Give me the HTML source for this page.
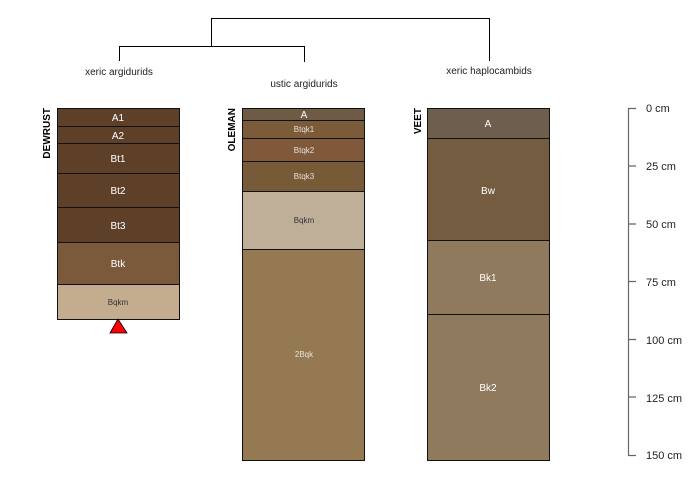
<!DOCTYPE html>
<html><head><style>html,body{margin:0;padding:0;background:#fff}svg{display:block}</style></head>
<body>
<svg width="700" height="500" viewBox="0 0 700 500" xmlns="http://www.w3.org/2000/svg" font-family="Liberation Sans, sans-serif">
<g stroke="#000" stroke-width="1" fill="none">
<path d="M211.5 47V18.5H489.5V61"/>
<path d="M119.5 61V46.5H304.5V62"/>
</g>
<g font-size="10" fill="#222" text-anchor="middle">
<text x="119" y="75">xeric argidurids</text>
<text x="304" y="87">ustic argidurids</text>
<text x="489" y="74">xeric haplocambids</text>
</g>
<!-- DEWRUST -->
<g stroke="#111" stroke-width="1">
<rect x="57.5" y="108.5" width="122" height="18" fill="#5e4029"/>
<rect x="57.5" y="126.5" width="122" height="17" fill="#5e4029"/>
<rect x="57.5" y="143.5" width="122" height="30" fill="#5e4029"/>
<rect x="57.5" y="173.5" width="122" height="34" fill="#5e4029"/>
<rect x="57.5" y="207.5" width="122" height="35" fill="#5e4029"/>
<rect x="57.5" y="242.5" width="122" height="42" fill="#7b5a3b"/>
<rect x="57.5" y="284.5" width="122" height="35" fill="#c4ac8e"/>
</g>
<polygon points="118,319 110,333 127,333" fill="#f00" stroke="#000" stroke-width="0.8"/>
<g font-size="10" text-anchor="middle" fill="#fff">
<text x="118" y="121">A1</text><text x="118" y="139">A2</text>
<text x="118" y="162">Bt1</text><text x="118" y="194">Bt2</text>
<text x="118" y="229">Bt3</text><text x="118" y="267">Btk</text>
<text x="118" y="305" font-size="8" fill="#333">Bqkm</text>
</g>
<text transform="translate(50,108) rotate(-90)" text-anchor="end" font-size="10" font-weight="bold">DEWRUST</text>
<!-- OLEMAN -->
<g stroke="#111" stroke-width="1">
<rect x="242.5" y="108.5" width="122" height="12" fill="#6e5a45"/>
<rect x="242.5" y="120.5" width="122" height="18" fill="#7a5c3a"/>
<rect x="242.5" y="138.5" width="122" height="23" fill="#80593b"/>
<rect x="242.5" y="161.5" width="122" height="30" fill="#775a38"/>
<rect x="242.5" y="191.5" width="122" height="58" fill="#bfae98"/>
<rect x="242.5" y="249.5" width="122" height="211" fill="#957953"/>
</g>
<g font-size="8" text-anchor="middle" fill="#e8e0d8">
<text x="304" y="118" font-size="10" fill="#fff">A</text>
<text x="304" y="132">Btqk1</text><text x="304" y="153">Btqk2</text>
<text x="304" y="179">Btqk3</text>
<text x="304" y="223" fill="#333">Bqkm</text>
<text x="304" y="357">2Bqk</text>
</g>
<text transform="translate(235,108) rotate(-90)" text-anchor="end" font-size="10" font-weight="bold">OLEMAN</text>
<!-- VEET -->
<g stroke="#111" stroke-width="1">
<rect x="427.5" y="108.5" width="122" height="30" fill="#6e5e4d"/>
<rect x="427.5" y="138.5" width="122" height="102" fill="#735c40"/>
<rect x="427.5" y="240.5" width="122" height="74" fill="#8f7a5e"/>
<rect x="427.5" y="314.5" width="122" height="146" fill="#8f7a5e"/>
</g>
<g font-size="10" text-anchor="middle" fill="#fff">
<text x="488" y="127">A</text><text x="488" y="194">Bw</text>
<text x="488" y="281">Bk1</text><text x="488" y="391">Bk2</text>
</g>
<text transform="translate(421,108) rotate(-90)" text-anchor="end" font-size="10" font-weight="bold">VEET</text>
<!-- scale -->
<g stroke="#666" stroke-width="1.2" fill="none">
<path d="M636 108.5H628.5V455.5H636"/>
<path d="M628 166H636M628 224H636M628 281.5H636M628 339.5H636M628 397H636"/>
</g>
<g font-size="11" fill="#222">
<text x="646" y="112">0 cm</text><text x="646" y="170">25 cm</text>
<text x="646" y="228">50 cm</text><text x="646" y="286">75 cm</text>
<text x="646" y="344">100 cm</text><text x="646" y="402">125 cm</text>
<text x="646" y="459">150 cm</text>
</g>
</svg>
</body></html>
